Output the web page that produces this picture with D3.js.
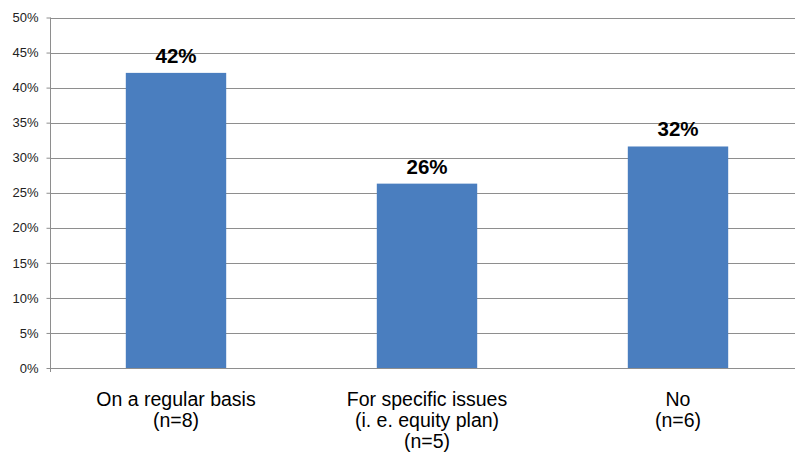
<!DOCTYPE html>
<html><head><meta charset="utf-8">
<script src="https://cdn.jsdelivr.net/npm/d3@7"></script>
<style>body{margin:0;background:#fff}svg{display:block}</style>
</head><body>
<svg id="c" width="795" height="452"></svg>
<script>
const categories = [
  ["On a regular basis", "(n=8)"],
  ["For specific issues", "(i. e. equity plan)", "(n=5)"],
  ["No", "(n=6)"]
];
const values = [42.1, 26.3, 31.6];
const valueLabels = ["42%", "26%", "32%"];
const yTicks = [0, 5, 10, 15, 20, 25, 30, 35, 40, 45, 50];

const svg = d3.select("#c");
const mLeft = 50.5, mRight = 803.5, mTop = 17.5, mBottom = 368;
const x = d3.scaleBand().domain(d3.range(values.length)).range([mLeft, mRight]).paddingInner(0.6).paddingOuter(0.3);
const y = d3.scaleLinear().domain([0, 50]).range([mBottom, mTop]);

// gridlines
svg.append("g").selectAll("line").data(yTicks).join("line")
  .attr("x1", mLeft).attr("x2", 795)
  .attr("y1", d => Math.round(y(d)) + 0.5).attr("y2", d => Math.round(y(d)) + 0.5)
  .attr("stroke", "#8e8e8e").attr("stroke-width", 1);

// y axis
const yAxis = d3.axisLeft(y).tickValues(yTicks).tickFormat(d => d + "%").tickSize(4).tickPadding(8);
const ga = svg.append("g").attr("transform", `translate(${mLeft},0)`).call(yAxis);
ga.select(".domain").attr("stroke", "#8e8e8e").attr("d", `M0,${mTop}V${mBottom + 4}`);
ga.selectAll(".tick line").attr("stroke", "#8e8e8e");
ga.selectAll(".tick text").attr("font-family", "Liberation Sans, Arial, sans-serif").attr("font-size", 13).attr("fill", "#222");

// bars
svg.append("g").selectAll("rect").data(values).join("rect")
  .attr("x", (d, i) => x(i)).attr("width", x.bandwidth())
  .attr("y", d => y(d)).attr("height", d => y(0) - y(d))
  .attr("fill", "#4a7ebf");

// value labels
svg.append("g").selectAll("text").data(values).join("text")
  .attr("x", (d, i) => x(i) + x.bandwidth() / 2)
  .attr("y", d => y(d) - 10)
  .attr("text-anchor", "middle")
  .attr("font-family", "Liberation Sans, Arial, sans-serif")
  .attr("font-weight", "bold").attr("font-size", 20.5).attr("fill", "#000")
  .text((d, i) => valueLabels[i]);

// category labels
const cg = svg.append("g").selectAll("text").data(categories).join("text")
  .attr("x", (d, i) => x(i) + x.bandwidth() / 2)
  .attr("y", 406)
  .attr("text-anchor", "middle")
  .attr("font-family", "Liberation Sans, Arial, sans-serif")
  .attr("font-size", 19.5).attr("fill", "#000");
cg.selectAll("tspan").data(d => d).join("tspan")
  .attr("x", function() { return this.parentNode.getAttribute("x"); })
  .attr("dy", (d, j) => j === 0 ? 0 : 21)
  .text(d => d);
</script>
</body></html>
